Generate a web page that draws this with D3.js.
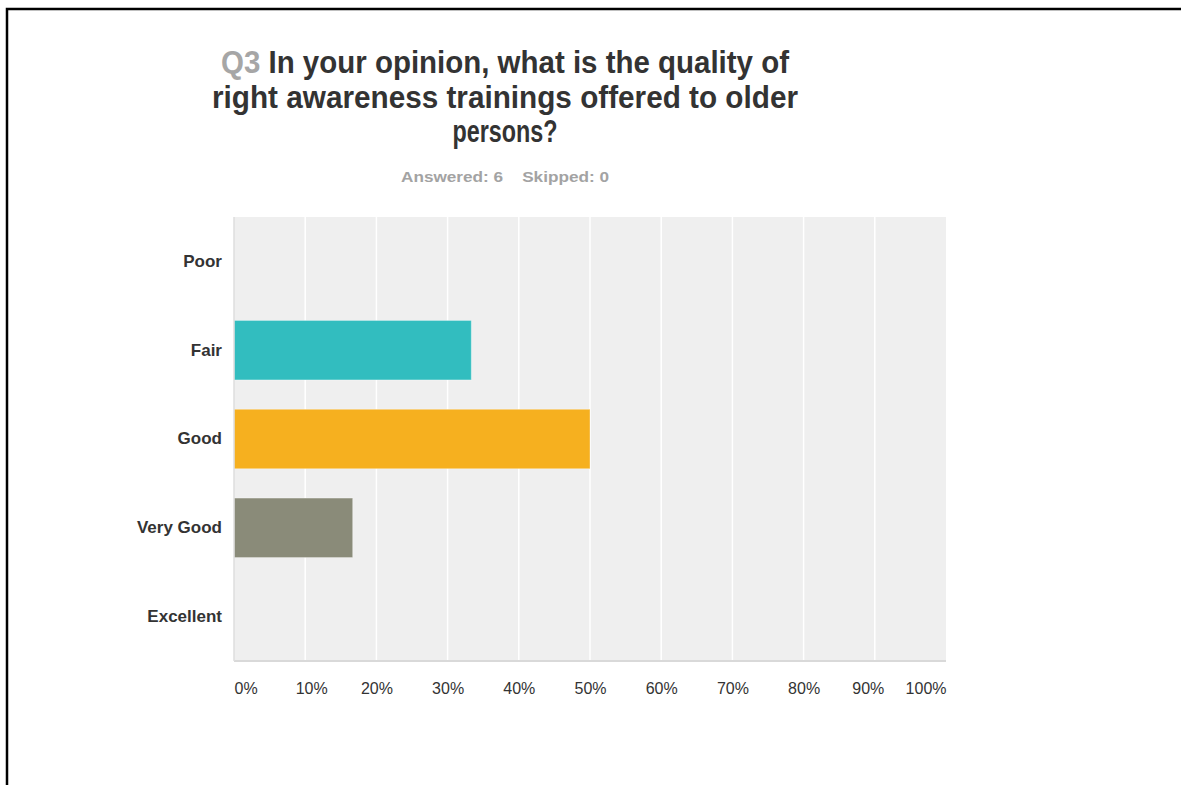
<!DOCTYPE html>
<html>
<head>
<meta charset="utf-8">
<script src="https://cdn.jsdelivr.net/npm/d3@7"></script>
<style>
  body { margin: 0; background: #fff; }
  svg { display: block; font-family: "Liberation Sans", Arial, sans-serif; }
</style>
</head>
<body>
<svg id="chart" width="1181" height="785"></svg>
<script>
// データ
var categories = ["Poor", "Fair", "Good", "Very Good", "Excellent"];
var values = [0, 33.33, 50, 16.67, 0];
var barColors = ["#32bdbf", "#32bdbf", "#f6b01f", "#8a8b79", "#8a8b79"];
var tickValues = [0, 10, 20, 30, 40, 50, 60, 70, 80, 90, 100];
var titleLines = [
  { q: "Q3 ", text: "In your opinion, what is the quality of", width: 568 },
  { q: "", text: "right awareness trainings offered to older", width: 586 },
  { q: "", text: "persons?", width: 105 }
];

var svg = d3.select("#chart");

// 枠線
svg.append("rect")
  .attr("x", 7).attr("y", 9)
  .attr("width", 1300).attr("height", 900)
  .attr("fill", "none")
  .attr("stroke", "#000")
  .attr("stroke-width", 2.5);

var margin = { top: 217, left: 234, right: 235, bottom: 124 };
var width = 1181 - margin.left - margin.right;
var height = 785 - margin.top - margin.bottom;

var x = d3.scaleLinear().domain([0, 100]).range([0, width]);
var y = d3.scaleBand().domain(categories).range([0, height])
  .paddingInner(0.33).paddingOuter(0.165);

// タイトル（横に少し詰めたフォント）
titleLines.forEach(function(l, i) {
  var t = svg.append("text")
    .attr("x", 505)
    .attr("y", 73 + i * 34.5)
    .attr("text-anchor", "middle")
    .attr("font-size", 31)
    .attr("font-weight", "bold")
    .attr("fill", "#333")
    .attr("textLength", l.width)
    .attr("lengthAdjust", "spacingAndGlyphs");
  if (l.q) t.append("tspan").attr("fill", "#a6a6a6").text(l.q);
  t.append("tspan").text(l.text);
});

svg.append("text")
  .attr("x", 505).attr("y", 182)
  .attr("text-anchor", "middle")
  .attr("font-size", 15.5)
  .attr("font-weight", "bold")
  .attr("fill", "#a3a3a3")
  .attr("textLength", 208)
  .attr("lengthAdjust", "spacingAndGlyphs")
  .text("Answered: 6\u00a0\u00a0\u00a0\u00a0Skipped: 0");

var g = svg.append("g")
  .attr("transform", "translate(" + margin.left + "," + margin.top + ")");

g.append("rect")
  .attr("width", width).attr("height", height)
  .attr("fill", "#efefef");

// グリッド
g.selectAll("line.grid")
  .data(tickValues.slice(1, -1))
  .enter().append("line")
  .attr("class", "grid")
  .attr("x1", function(d) { return x(d); })
  .attr("x2", function(d) { return x(d); })
  .attr("y1", 0).attr("y2", height)
  .attr("stroke", "#fff")
  .attr("stroke-width", 1.5);

// バー
g.selectAll("rect.bar")
  .data(values)
  .enter().append("rect")
  .attr("class", "bar")
  .attr("x", 0)
  .attr("y", function(d, i) { return y(categories[i]); })
  .attr("width", function(d) { return x(d); })
  .attr("height", y.bandwidth())
  .attr("fill", function(d, i) { return barColors[i]; })
  .attr("stroke", "rgba(255,255,255,0.35)")
  .attr("stroke-width", 1);

// 軸線
g.append("line")
  .attr("x1", 0).attr("x2", width)
  .attr("y1", height).attr("y2", height)
  .attr("stroke", "#d9d9d9").attr("stroke-width", 2);
g.append("line")
  .attr("x1", 0).attr("x2", 0)
  .attr("y1", 0).attr("y2", height)
  .attr("stroke", "#dedede").attr("stroke-width", 1.5);

// 縦軸ラベル
var yAxis = d3.axisLeft(y).tickSize(0).tickPadding(12);
g.append("g").call(yAxis)
  .call(function(s) { s.select(".domain").remove(); })
  .selectAll("text")
  .attr("font-family", "Liberation Sans, Arial, sans-serif")
  .attr("font-size", 17)
  .attr("font-weight", "bold")
  .attr("fill", "#333");

// 横軸ラベル
var xAxis = d3.axisBottom(x).tickValues(tickValues)
  .tickFormat(function(d) { return d + "%"; })
  .tickSize(0).tickPadding(22);
g.append("g")
  .attr("transform", "translate(0," + height + ")")
  .call(xAxis)
  .call(function(s) { s.select(".domain").remove(); })
  .selectAll("text")
  .attr("font-family", "Liberation Sans, Arial, sans-serif")
  .attr("font-size", 16)
  .attr("fill", "#333")
  .attr("text-anchor", function(d) { return d === 0 ? "start" : d === 100 ? "end" : "middle"; })
  .attr("dx", function(d) { return d === 10 ? 6 : d === 90 ? -7 : 0; });
</script>
</body>
</html>
